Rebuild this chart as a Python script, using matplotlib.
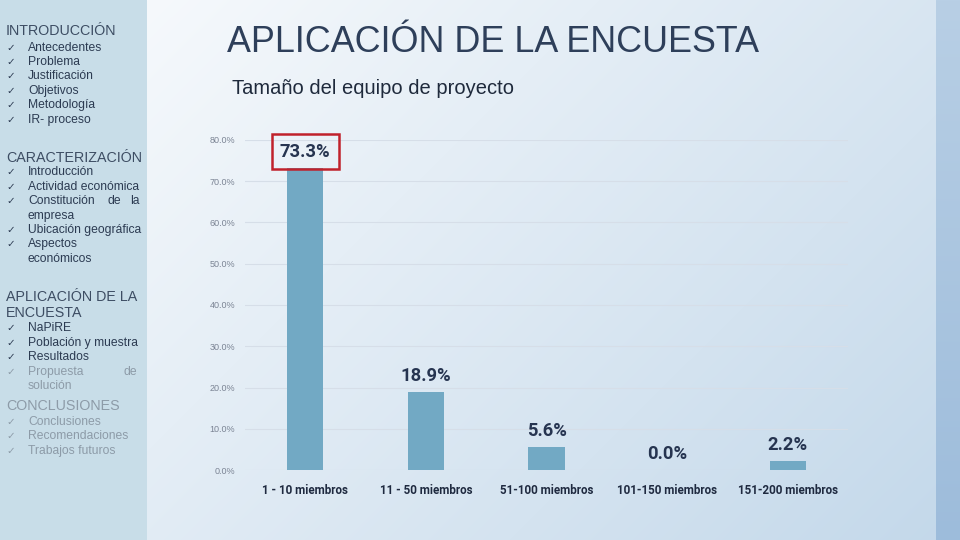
import numpy as np
import matplotlib
matplotlib.use("Agg")
import matplotlib.pyplot as plt
from matplotlib.colors import to_rgb

categories = ["1 - 10 miembros", "11 - 50 miembros", "51-100 miembros",
              "101-150 miembros", "151-200 miembros"]
values = [73.3, 18.9, 5.6, 0.0, 2.2]
yticks = [0, 10, 20, 30, 40, 50, 60, 70, 80]

title = "APLICACIÓN DE LA ENCUESTA"
subtitle = "Tamaño del equipo de proyecto"

W, H = 960, 540
fig = plt.figure(figsize=(9.6, 5.4), dpi=100)

# ---- background ----
bg = fig.add_axes([0, 0, 1, 1], zorder=0)
bg.set_axis_off()
yy, xx = np.mgrid[0:H, 0:W]
c0 = np.array(to_rgb("#f6f9fc"))
c1 = np.array(to_rgb("#c3d8ea"))
t = np.clip(((xx - 147) / (W - 147)) * 0.6 + (yy / H) * 0.4, 0, 1)[..., None]
img = c0 * (1 - t) + c1 * t
side = np.array(to_rgb("#c8dde8"))
img[:, :147] = side
s0 = np.array(to_rgb("#b8cfe5"))
s1 = np.array(to_rgb("#9dbcdb"))
ts = (yy / H)[..., None]
strip = s0 * (1 - ts) + s1 * ts
img[:, 936:] = strip[:, 936:]
bg.imshow(img, extent=[0, W, H, 0], aspect="auto", interpolation="bilinear")
bg.set_xlim(0, W)
bg.set_ylim(H, 0)

# ---- sidebar text ----
dark = "#2c3b52"
head = "#3d4d63"
grey = "#8d9ba8"
sfont = "Liberation Sans"

def heading(y, txt, color=head):
    bg.text(6, y, txt, fontsize=10.3, color=color, family=sfont, va="center", ha="left")

def item(y, txt, color=dark, check=True, extra=None):
    if check:
        bg.text(6, y, "✓", fontsize=7.5, color=color, family="DejaVu Sans", va="center", ha="left")
    bg.text(28, y, txt, fontsize=8.7, color=color, family=sfont, va="center", ha="left")
    if extra:
        for x, w in extra:
            bg.text(x, y, w, fontsize=8.7, color=color, family=sfont, va="center", ha="left")

heading(31, "INTRODUCCIÓN")
for y, txt in zip([48, 62, 76, 91, 105, 120],
                  ["Antecedentes", "Problema", "Justificación", "Objetivos",
                   "Metodología", "IR- proceso"]):
    item(y, txt)

heading(158, "CARACTERIZACIÓN")
item(172, "Introducción")
item(187, "Actividad económica")
item(201, "Constitución", extra=[(107, "de"), (130, "la")])
item(216, "empresa", check=False)
item(230, "Ubicación geográfica")
item(244, "Aspectos")
item(259, "económicos", check=False)

heading(297, "APLICACIÓN DE LA")
heading(313, "ENCUESTA")
item(328, "NaPiRE")
item(343, "Población y muestra")
item(357, "Resultados")
item(372, "Propuesta", color=grey, extra=[(123, "de")])
item(386, "solución", color=grey, check=False)

heading(406, "CONCLUSIONES", color=grey)
item(422, "Conclusiones", color=grey)
item(436, "Recomendaciones", color=grey)
item(451, "Trabajos futuros", color=grey)

# ---- titles ----
bg.text(493, 42, title, fontsize=25.8, color="#2e3f5a", family=sfont, ha="center", va="center")
bg.text(232, 89, subtitle, fontsize=14.5, color="#1f2a3c", family=sfont, ha="left", va="center")

# ---- chart ----
ax = fig.add_axes([245 / W, 1 - 470 / H, (848 - 245) / W, (470 - 140) / H], zorder=2)
ax.patch.set_alpha(0)
x = np.arange(len(categories))
bars = ax.bar(x, values, width=0.3, color="#72a9c4", zorder=3)
ax.set_xlim(-0.5, len(categories) - 0.5)
ax.set_ylim(0, 80)
ax.set_yticks(yticks)
ax.set_yticklabels([f"{v:.1f}%" for v in yticks], fontsize=6.5, color="#7b8494", family=sfont)
ax.yaxis.grid(True, color="#d6dee8", linewidth=0.8, zorder=0)
ax.set_axisbelow(True)
ax.tick_params(axis="y", length=0, pad=7)
ax.tick_params(axis="x", length=0, pad=10)
ax.set_xticks(x)
ax.set_xticklabels(categories, fontsize=8.4, fontweight="bold", color="#1f2a40", family="Roboto")
for sp in ax.spines.values():
    sp.set_visible(False)

for i, v in enumerate(values):
    kw = {}
    if i == 0:
        kw["bbox"] = dict(boxstyle="square,pad=0.45", facecolor="none",
                          edgecolor="#c0212b", linewidth=1.8)
    ax.annotate(f"{v:.1f}%", (x[i], v), xytext=(0, 11.5), textcoords="offset points",
                ha="center", va="center", fontsize=13.2, fontweight="bold",
                color="#263450", family="Roboto", annotation_clip=False, **kw)

fig.savefig("out.png", dpi=100)
